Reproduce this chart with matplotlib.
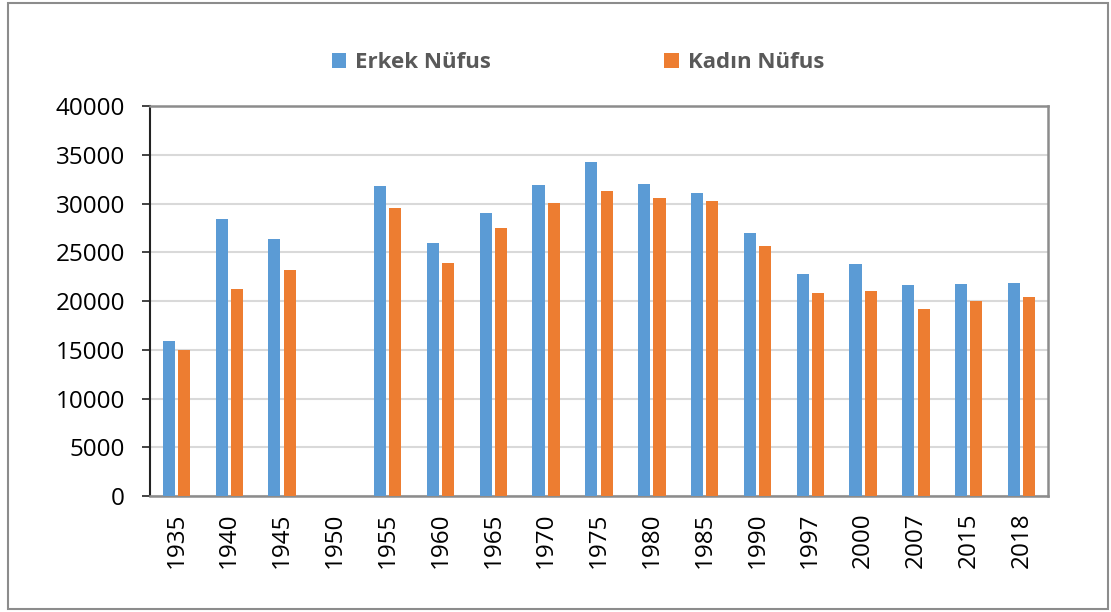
import numpy as np
import matplotlib
matplotlib.use("Agg")
import matplotlib.pyplot as plt
from matplotlib.patches import Rectangle

# Population by census year
years = ["1935", "1940", "1945", "1950", "1955", "1960", "1965", "1970", "1975",
         "1980", "1985", "1990", "1997", "2000", "2007", "2015", "2018"]
erkek = [15900, 28400, 26400, 0, 31750, 26000, 29000, 31850, 34300,
         31950, 31050, 26950, 22800, 23750, 21600, 21700, 21800]
kadin = [15000, 21200, 23200, 0, 29500, 23850, 27500, 30100, 31250,
         30600, 30300, 25600, 20850, 21050, 19200, 20050, 20400]

blue = "#5B9BD5"
orange = "#ED7D31"

plt.rcParams['font.family'] = ['Open Sans', 'DejaVu Sans']

fig = plt.figure(figsize=(11.11, 6.12), dpi=100)
ax = fig.add_axes([150 / 1111, 1 - 496 / 612, 898 / 1111, 390 / 612])

x = np.arange(len(years))
w = 0.23
ax.bar(x - 0.145, erkek, w, color=blue, label="Erkek Nüfus", zorder=3)
ax.bar(x + 0.145, kadin, w, color=orange, label="Kadın Nüfus", zorder=3)

ax.set_xlim(-0.5, len(years) - 0.5)
ax.set_ylim(0, 40000)
ax.set_yticks(range(0, 40001, 5000))
ax.set_xticks(x)
ax.set_xticklabels(years, rotation=90)
ax.grid(axis="y", color="#D9D9D9", linewidth=1.5, zorder=0)

ax.tick_params(axis="y", length=6, width=1.2, color="#222222", labelsize=17.5, pad=12)
ax.tick_params(axis="x", length=0, labelsize=17.5, pad=12)

for side in ["top", "right", "bottom"]:
    ax.spines[side].set_color("#8C8C8C")
    ax.spines[side].set_linewidth(1.8)
ax.spines["left"].set_color("#222222")
ax.spines["left"].set_linewidth(1.5)

leg = fig.legend(loc="center", bbox_to_anchor=(578 / 1111, 1 - 63 / 612), ncol=2,
                 frameon=False, handlelength=0.65, handleheight=0.65, handletextpad=0.4,
                 columnspacing=7.8, prop={"weight": "bold", "size": 16})
for t in leg.get_texts():
    t.set_color("#595959")

# outer chart border
fig.patches.append(Rectangle((8 / 1111, 3 / 612), 1100 / 1111, 606 / 612,
                             transform=fig.transFigure, fill=False,
                             edgecolor="#8C8C8C", linewidth=1.5))

fig.savefig("out.png", dpi=100)
